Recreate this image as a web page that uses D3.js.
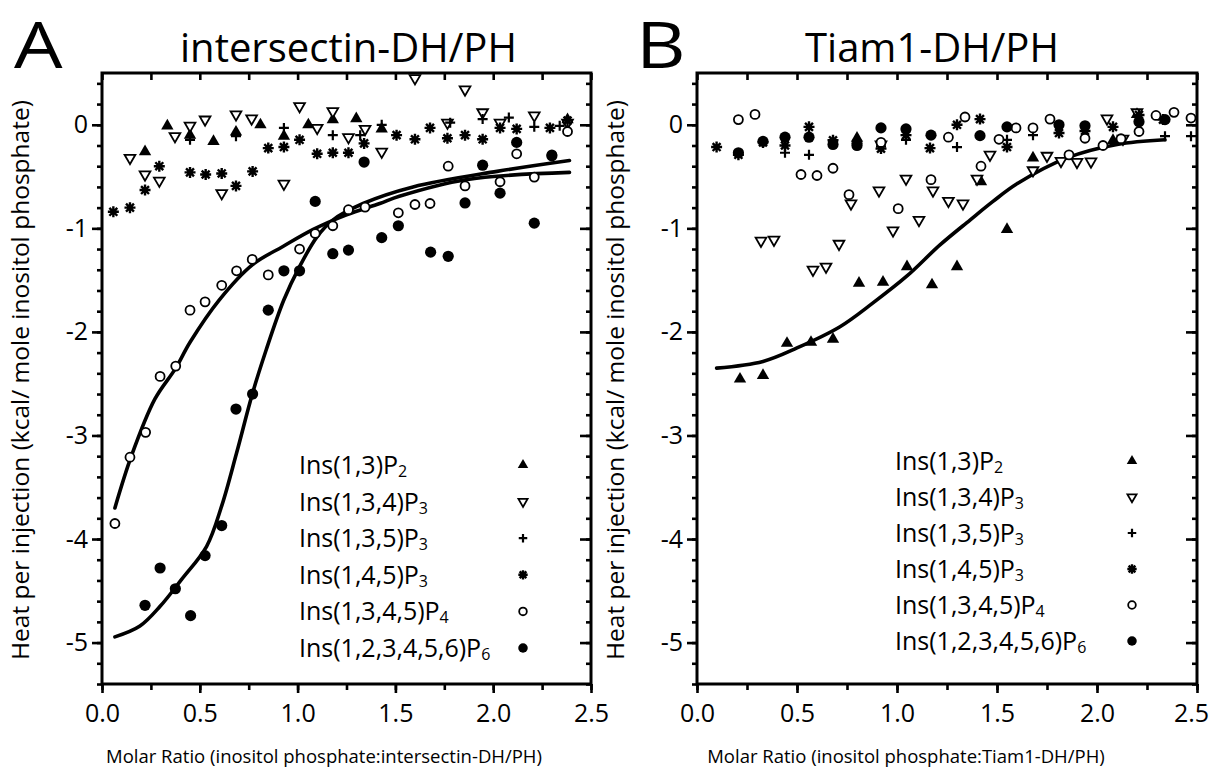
<!DOCTYPE html>
<html>
<head>
<meta charset="utf-8">
<style>
  body { margin: 0; background: #fff; }
  svg { display: block; font-family: "Open Sans", "Noto Sans", sans-serif; }
  .tick text { font-family: "Open Sans", "Noto Sans", sans-serif; }
</style>
</head>
<body>
<script src="https://d3js.org/d3.v7.min.js"></script>
<script>

var width = 1210, height = 768;

// legend entries
var seriesNames = ["Ins(1,3)P", "Ins(1,3,4)P", "Ins(1,3,5)P", "Ins(1,4,5)P", "Ins(1,3,4,5)P", "Ins(1,2,3,4,5,6)P"];
var seriesSubs = ["2", "3", "3", "3", "4", "6"];
var seriesSymbols = ["triUp", "triDown", "plus", "star", "circleOpen", "circleFilled"];

var xTicks = [0, 0.5, 1, 1.5, 2, 2.5];
var yTicks = [0, -1, -2, -3, -4, -5];

// ---- panel A : intersectin-DH/PH ----
var aP2 = [[0.22,-0.26],[0.334,-0.01],[0.45,-0.10],[0.57,-0.16],[0.685,-0.07],[0.81,0.0],[0.93,-0.11],
  [1.055,0.0],[1.18,0.05],[1.30,0.06],[1.43,-0.04],[2.38,0.05]];
var aP134 = [[0.143,-0.32],[0.22,-0.48],[0.293,-0.54],[0.373,-0.11],[0.45,-0.01],[0.527,0.05],[0.612,-0.66],
  [0.685,0.10],[0.765,0.06],[0.93,-0.57],[1.01,0.18],[1.10,-0.03],[1.18,0.13],[1.26,-0.12],[1.345,-0.04],
  [1.43,-0.26],[1.60,0.45],[1.766,0.02],[1.856,0.34],[1.946,0.12],[2.035,0.02],[2.21,0.09],[2.38,0.02]];
var aP135 = [[0.45,-0.145],[0.685,-0.11],[0.93,-0.03],[1.18,-0.10],[1.32,-0.10],[1.43,0.0],[1.78,0.02],
  [1.946,0.055],[2.08,0.07],[2.21,-0.02],[2.34,-0.01]];
var aP145 = [[0.058,-0.84],[0.143,-0.80],[0.22,-0.63],[0.293,-0.40],[0.45,-0.46],[0.53,-0.48],[0.612,-0.47],
  [0.685,-0.59],[0.77,-0.45],[0.85,-0.225],[0.93,-0.215],[1.01,-0.145],[1.10,-0.28],[1.18,-0.27],[1.26,-0.27],
  [1.34,-0.18],[1.506,-0.10],[1.60,-0.14],[1.677,-0.03],[1.766,-0.13],[1.856,-0.10],[1.946,-0.14],
  [2.035,-0.03],[2.12,-0.04],[2.29,-0.03],[2.38,0.04]];
var aP4 = [[0.066,-3.85],[0.143,-3.21],[0.223,-2.97],[0.297,-2.43],[0.377,-2.33],[0.45,-1.79],[0.527,-1.71],
  [0.612,-1.55],[0.688,-1.41],[0.768,-1.30],[0.85,-1.45],[1.01,-1.20],[1.09,-1.05],[1.18,-0.975],[1.26,-0.82],
  [1.345,-0.795],[1.515,-0.85],[1.60,-0.77],[1.677,-0.76],[1.77,-0.40],[1.856,-0.59],[2.035,-0.55],
  [2.12,-0.28],[2.21,-0.505],[2.30,-0.29],[2.38,-0.065]];
var aP6 = [[0.22,-4.64],[0.297,-4.28],[0.375,-4.48],[0.453,-4.74],[0.527,-4.16],[0.612,-3.87],[0.685,-2.745],
  [0.77,-2.60],[0.85,-1.79],[0.93,-1.41],[1.01,-1.41],[1.09,-0.74],[1.18,-1.245],[1.26,-1.21],[1.34,-0.36],
  [1.43,-1.09],[1.515,-0.975],[1.68,-1.23],[1.77,-1.27],[1.856,-0.755],[1.946,-0.39],[2.035,-0.66],
  [2.12,-0.17],[2.21,-0.95],[2.30,-0.30]];
// fitted curves
var aFitP4 = [[0.066,-3.70],[0.15,-3.2],[0.27,-2.65],[0.377,-2.35],[0.45,-2.1],[0.60,-1.69],[0.77,-1.35],
  [0.925,-1.175],[1.08,-1.01],[1.25,-0.87],[1.42,-0.76],[1.52,-0.69],[1.86,-0.53],[2.39,-0.46]];
var aFitP6 = [[0.066,-4.945],[0.194,-4.84],[0.297,-4.65],[0.407,-4.39],[0.535,-4.07],[0.612,-3.68],
  [0.688,-3.17],[0.77,-2.59],[0.84,-2.17],[0.93,-1.69],[1.01,-1.37],[1.10,-1.08],[1.18,-0.92],[1.335,-0.76],
  [1.59,-0.6],[2.02,-0.45],[2.39,-0.345]];

// ---- panel B : Tiam1-DH/PH ----
var bP2 = [[0.215,-2.455],[0.33,-2.42],[0.45,-2.11],[0.57,-2.10],[0.68,-2.07],[0.80,-0.13],[0.81,-1.53],
  [0.93,-1.52],[1.05,-1.37],[1.175,-1.545],[1.30,-1.37],[1.42,-0.55],[1.55,-1.01],[1.68,-0.32],
  [2.08,-0.15],[2.20,0.10]];
var bP134 = [[0.32,-1.12],[0.385,-1.11],[0.58,-1.40],[0.645,-1.37],[0.71,-1.15],[0.77,-0.76],[0.91,-0.635],
  [0.92,-0.19],[0.98,-1.02],[1.045,-0.52],[1.11,-0.92],[1.18,-0.635],[1.257,-0.735],[1.33,-0.76],[1.40,-0.52],
  [1.465,-0.29],[1.68,-0.44],[1.75,-0.30],[1.82,-0.35],[1.90,-0.36],[1.97,-0.355],[2.05,0.06],
  [2.13,-0.135],[2.20,0.12]];
var bP135 = [[0.44,-0.27],[0.56,-0.29],[0.68,-0.16],[0.80,-0.16],[0.92,-0.21],[1.045,-0.145],[1.30,-0.215],
  [1.55,-0.145],[1.68,-0.10],[2.34,-0.11],[2.47,-0.11]];
var bP145 = [[0.098,-0.215],[0.207,-0.29],[0.33,-0.17],[0.44,-0.20],[0.56,-0.02],[0.68,-0.15],[0.80,-0.18],
  [0.92,-0.23],[1.045,-0.10],[1.165,-0.225],[1.30,0.0],[1.415,0.055],[1.55,-0.215],[1.81,-0.08],
  [1.94,-0.06],[2.08,-0.02],[2.21,0.095],[2.33,0.05]];
var bP4 = [[0.207,0.05],[0.29,0.10],[0.52,-0.48],[0.60,-0.49],[0.68,-0.42],[0.76,-0.675],[0.92,-0.17],
  [1.006,-0.81],[1.17,-0.53],[1.257,-0.12],[1.34,0.075],[1.42,-0.40],[1.51,-0.14],[1.595,-0.03],
  [1.68,-0.03],[1.765,0.055],[1.86,-0.29],[1.94,-0.13],[2.03,-0.20],[2.12,-0.135],[2.21,-0.065],
  [2.295,0.09],[2.385,0.12],[2.47,0.065]];
var bP6 = [[0.207,-0.27],[0.33,-0.16],[0.44,-0.12],[0.56,-0.12],[0.68,-0.19],[0.80,-0.20],[0.92,-0.03],
  [1.045,-0.04],[1.17,-0.10],[1.415,-0.105],[1.55,-0.02],[1.81,0.0],[1.94,-0.01],[2.21,0.03],[2.34,0.05]];
var bFit = [[0.098,-2.35],[0.33,-2.285],[0.50,-2.155],[0.715,-1.95],[0.88,-1.72],[1.05,-1.46],[1.215,-1.16],
  [1.365,-0.92],[1.48,-0.74],[1.60,-0.57],[1.85,-0.32],[2.10,-0.19],[2.34,-0.145]];

var svg = d3.select("body").append("svg")
    .attr("width", width)
    .attr("height", height);

// one marker drawn at (px,py)
function drawSymbol(g, type, px, py, s) {
  s = s || 1;
  if (type == "triUp") {
    g.append("path").attr("d", d3.symbol(d3.symbolTriangle, 66 * s * s)())
      .attr("transform", "translate(" + px + "," + py + ")").attr("fill", "#000");
  } else if (type == "triDown") {
    g.append("path").attr("d", d3.symbol(d3.symbolTriangle, 50 * s * s)())
      .attr("transform", "translate(" + px + "," + py + ") rotate(180)")
      .attr("fill", "#fff").attr("stroke", "#000").attr("stroke-width", 1.8);
  } else if (type == "plus") {
    var r = 5 * s;
    g.append("path").attr("d", "M" + (px - r) + "," + py + "H" + (px + r) + "M" + px + "," + (py - r) + "V" + (py + r))
      .attr("stroke", "#000").attr("stroke-width", 2.2);
  } else if (type == "star") {
    var r = 5.5 * s, d = r * 0.72;
    g.append("path").attr("d",
        "M" + (px - r) + "," + py + "H" + (px + r) +
        "M" + px + "," + (py - r) + "V" + (py + r) +
        "M" + (px - d) + "," + (py - d) + "L" + (px + d) + "," + (py + d) +
        "M" + (px - d) + "," + (py + d) + "L" + (px + d) + "," + (py - d))
      .attr("stroke", "#000").attr("stroke-width", 2.4);
  } else if (type == "circleOpen") {
    g.append("circle").attr("cx", px).attr("cy", py).attr("r", 4.5 * s)
      .attr("fill", "#fff").attr("stroke", "#000").attr("stroke-width", 1.8);
  } else {
    g.append("circle").attr("cx", px).attr("cy", py).attr("r", 5.6 * s).attr("fill", "#000");
  }
}

function drawPanel(p) {
  var x = d3.scaleLinear().domain([0, 2.5]).range([p.left, p.right]);
  var y = d3.scaleLinear().domain([-5.4, 0.5]).range([684, 73]);
  var g = svg.append("g");

  var yMinor = d3.range(-27, 3).map(function(i) { return i * 0.2; });
  var xMinor = d3.range(0, 11).map(function(i) { return i * 0.25; });

  // left axis
  g.append("g").attr("class", "axis").attr("transform", "translate(" + p.left + ",0)")
    .call(d3.axisLeft(y).tickValues(yMinor).tickSize(5).tickFormat(""));
  g.append("g").attr("class", "axis lab").attr("transform", "translate(" + p.left + ",0)")
    .call(d3.axisLeft(y).tickValues(yTicks).tickSize(10).tickPadding(4).tickFormat(function(d) { return String(d); }));
  // right frame, ticks inward
  g.append("g").attr("class", "axis").attr("transform", "translate(" + p.right + ",0)")
    .call(d3.axisLeft(y).tickValues(yMinor).tickSize(5).tickFormat(""));
  g.append("g").attr("class", "axis").attr("transform", "translate(" + p.right + ",0)")
    .call(d3.axisLeft(y).tickValues(yTicks).tickSize(11).tickFormat(""));
  // bottom axis
  g.append("g").attr("class", "axis").attr("transform", "translate(0,684)")
    .call(d3.axisBottom(x).tickValues(xMinor).tickSize(6).tickFormat(""));
  var bottom = g.append("g").attr("class", "axis lab").attr("transform", "translate(0,684)")
    .call(d3.axisBottom(x).tickValues(xTicks).tickSize(9).tickPadding(11).tickFormat(d3.format(".1f")));
  // top frame, ticks inward
  g.append("g").attr("class", "axis").attr("transform", "translate(0,73)")
    .call(d3.axisBottom(x).tickValues(xMinor).tickSize(7).tickFormat(""));

  g.selectAll(".axis .domain").remove();
  g.selectAll(".axis line").attr("stroke", "#000").attr("stroke-width", 2.6);
  g.selectAll(".lab text").attr("fill", "#000").style("font-size", "25px");
  bottom.selectAll(".tick text").filter(function(d) { return d == 2.5; }).attr("dx", p.lastDx);

  // frame
  g.append("rect").attr("x", p.left).attr("y", 73)
    .attr("width", p.right - p.left).attr("height", 684 - 73)
    .attr("fill", "none").attr("stroke", "#000").attr("stroke-width", 3);

  // fitted curves
  var line = d3.line().x(function(d) { return x(d[0]); }).y(function(d) { return y(d[1]); })
    .curve(d3.curveCatmullRom);
  p.fits.forEach(function(f) {
    g.append("path").attr("d", line(f)).attr("fill", "none")
      .attr("stroke", "#000").attr("stroke-width", 3.6).attr("stroke-linecap", "round");
  });

  // points
  p.series.forEach(function(s, i) {
    s.forEach(function(d) { drawSymbol(g, seriesSymbols[i], x(d[0]), y(d[1])); });
  });

  // legend
  seriesNames.forEach(function(name, i) {
    var ly = p.legendY + i * p.legendStep;
    var t = g.append("text").attr("x", p.legendX).attr("y", ly + 9)
      .style("font-size", "25px").attr("fill", "#000");
    t.append("tspan").text(name);
    t.append("tspan").text(seriesSubs[i]).style("font-size", "16px").attr("dy", 3);
    drawSymbol(g, seriesSymbols[i], p.legendMarkX, ly, 0.85);
  });

  // titles
  g.append("text").attr("transform", "translate(" + p.letterX + ",68) scale(1.2,1)").text(p.letter)
    .style("font-size", "64px").style("font-weight", 500).attr("fill", "#000");
  g.append("text").attr("x", p.titleX).attr("y", 62).text(p.title)
    .style("font-size", "40px").attr("fill", "#000");

  // axis titles
  g.append("text").attr("transform", "translate(" + (p.left - 73) + ",380) rotate(-90)")
    .attr("text-anchor", "middle").style("font-size", "24.5px").attr("fill", "#000")
    .text("Heat per injection (kcal/ mole inositol phosphate)");
  g.append("text").attr("x", p.xLabelX).attr("y", 763).attr("text-anchor", "middle")
    .style("font-size", "18.5px").attr("fill", "#000").text(p.xLabel);
}

drawPanel({
  left: 102, right: 591, lastDx: 0,
  series: [aP2, aP134, aP135, aP145, aP4, aP6],
  fits: [aFitP4, aFitP6],
  legendX: 299, legendY: 465, legendStep: 36.6, legendMarkX: 523,
  letter: "A", letterX: 14, title: "intersectin-DH/PH", titleX: 180,
  xLabel: "Molar Ratio (inositol phosphate:intersectin-DH/PH)", xLabelX: 324
});

drawPanel({
  left: 697, right: 1197, lastDx: -6,
  series: [bP2, bP134, bP135, bP145, bP4, bP6],
  fits: [bFit],
  legendX: 895, legendY: 461, legendStep: 36, legendMarkX: 1132,
  letter: "B", letterX: 636, title: "Tiam1-DH/PH", titleX: 805,
  xLabel: "Molar Ratio (inositol phosphate:Tiam1-DH/PH)", xLabelX: 906
});

</script>
</body>
</html>
